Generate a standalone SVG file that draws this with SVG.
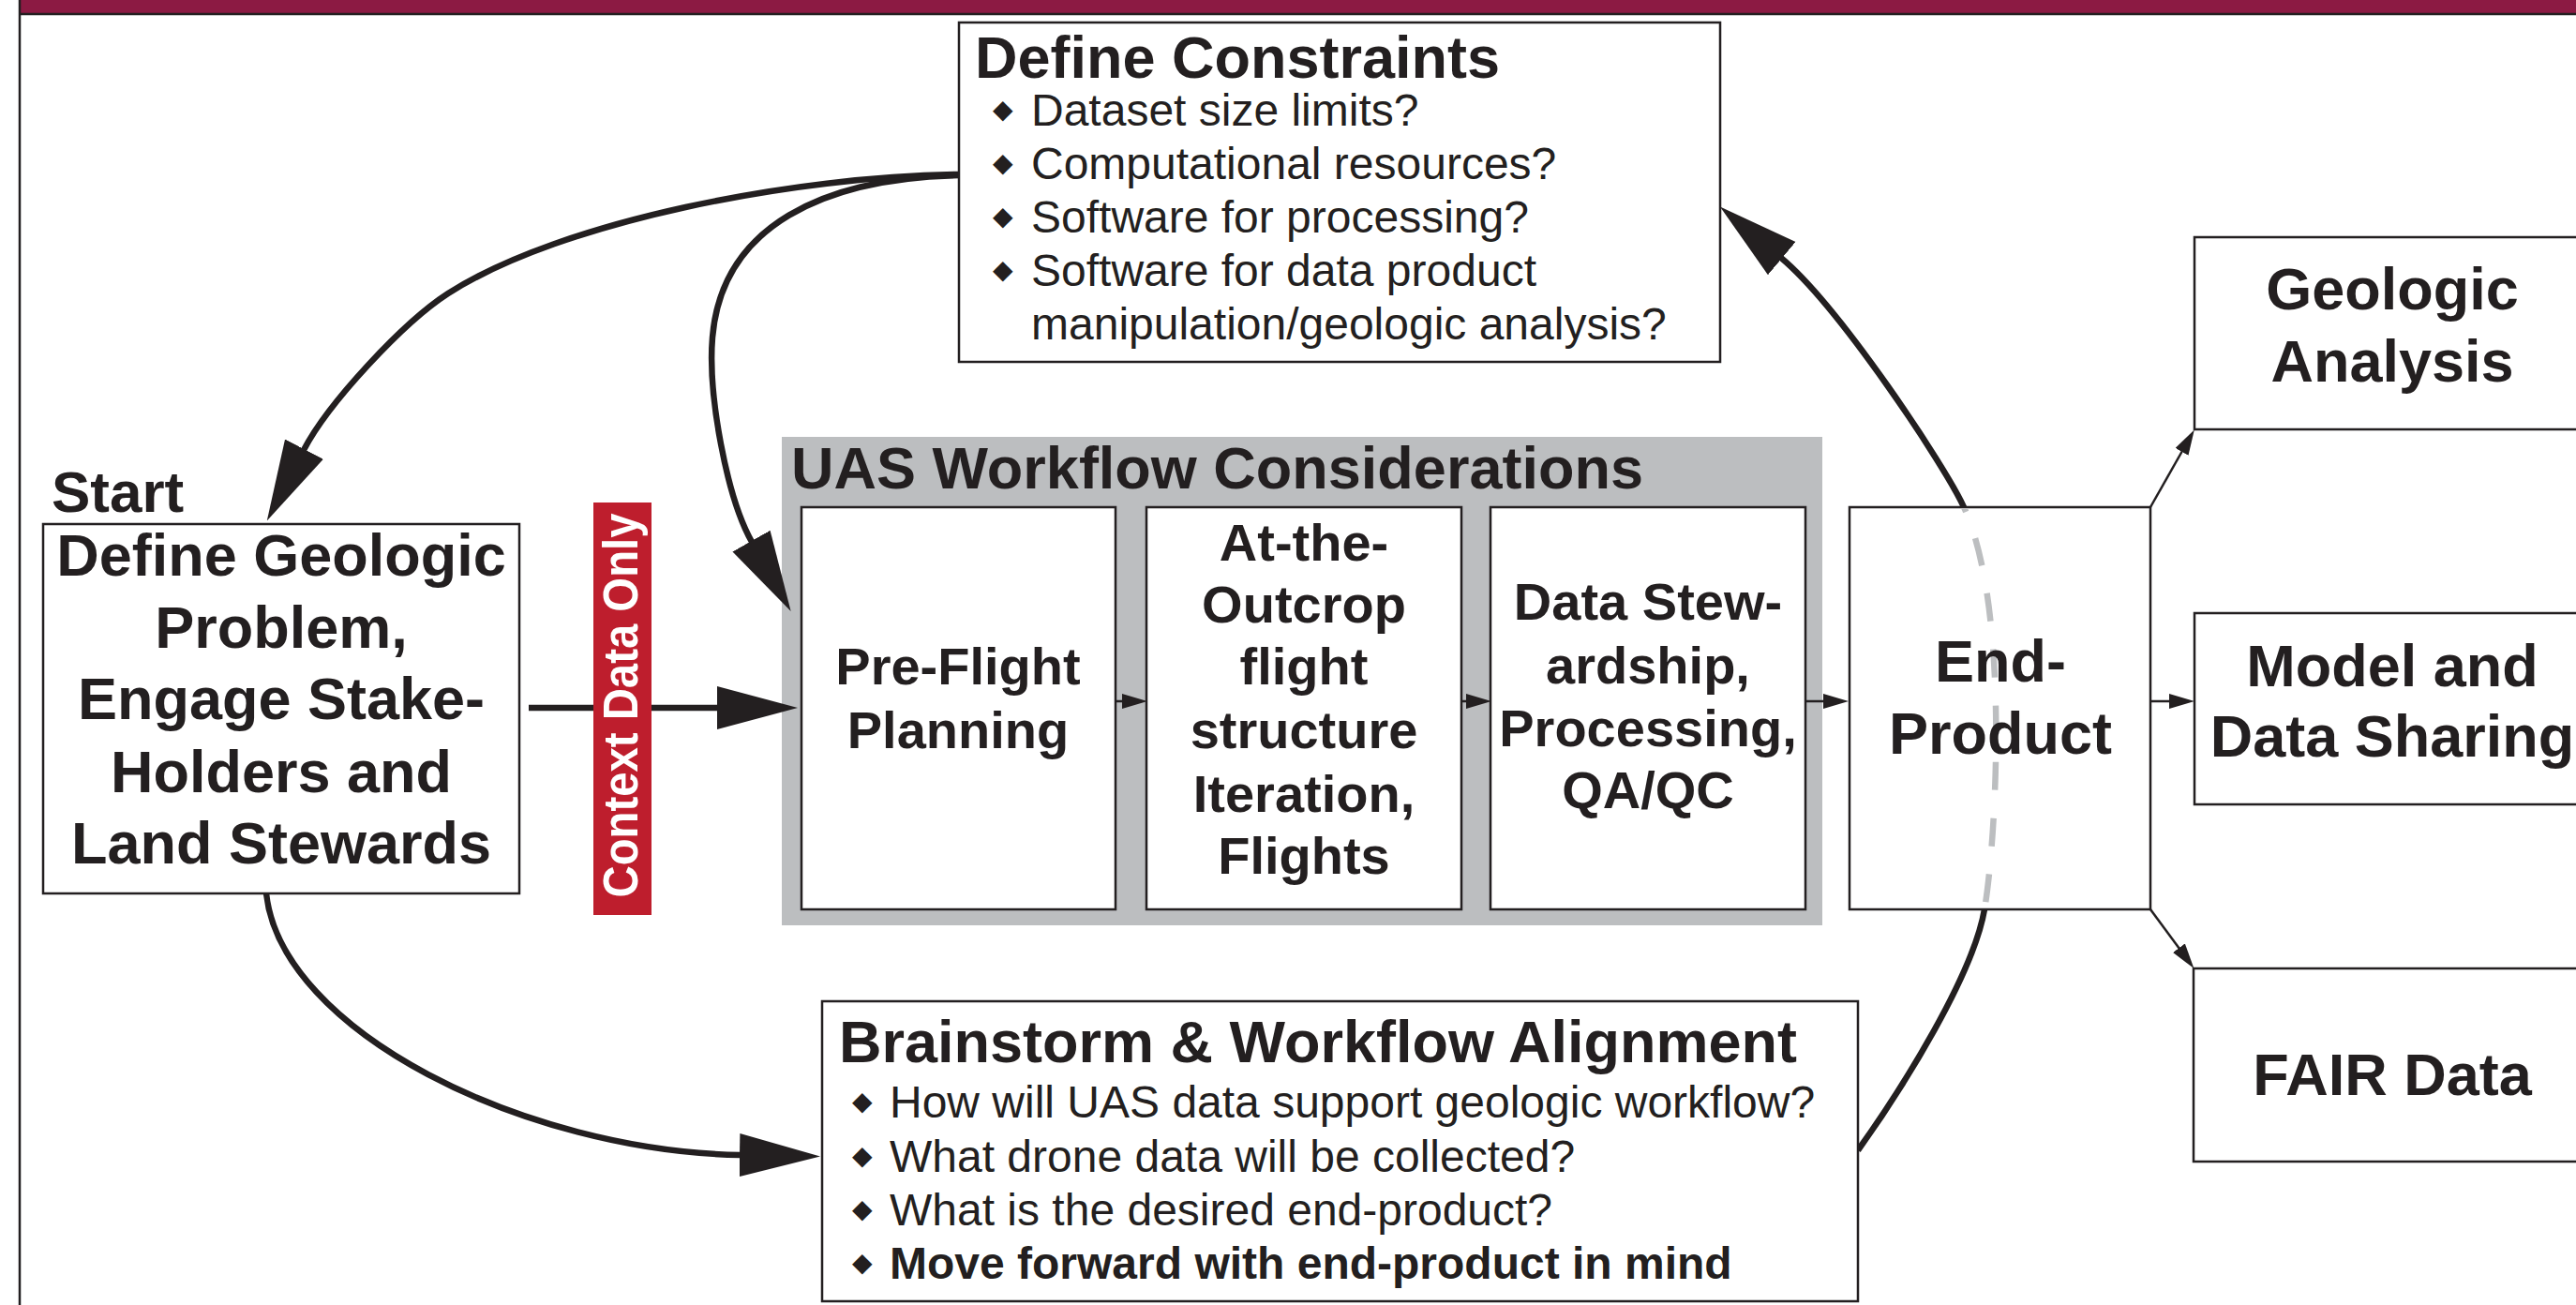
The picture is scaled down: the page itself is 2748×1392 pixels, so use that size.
<svg xmlns="http://www.w3.org/2000/svg" width="2748" height="1392" viewBox="0 0 2748 1392">
<style>
.bg{fill:#ffffff}
.box{fill:#ffffff;stroke:#231F20;stroke-width:2.5}
.lbl{font-family:"Liberation Sans",Arial,sans-serif;font-weight:bold;font-size:63px;fill:#231F20;text-anchor:middle}
.lbl56{font-size:56px}
.ttl{font-family:"Liberation Sans",Arial,sans-serif;font-weight:bold;font-size:63px;fill:#231F20}
.bul{font-family:"Liberation Sans",Arial,sans-serif;font-size:48px;fill:#231F20}
.bold{font-weight:bold}
.dia{font-family:"DejaVu Sans",sans-serif;font-size:28px;font-weight:normal}
.conn{fill:none;stroke:#231F20;stroke-width:6.5}
.thin{fill:none;stroke:#231F20;stroke-width:2.5}
.hidden{fill:none;stroke:#BCBEC0;stroke-width:6.5;stroke-dasharray:30 30}
</style>
<defs>
<marker id="big" markerUnits="userSpaceOnUse" markerWidth="86" markerHeight="48" viewBox="0 0 86 48" refX="1" refY="24" orient="auto">
<path d="M0,1 L86,24 L0,47 Z" fill="#231F20"/>
</marker>
<marker id="small" markerUnits="userSpaceOnUse" markerWidth="27" markerHeight="16" viewBox="0 0 27 16" refX="1" refY="8" orient="auto">
<path d="M0,0 L27,8 L0,16 Z" fill="#231F20"/>
</marker>
<clipPath id="endClip"><rect x="1975" y="543" width="317" height="425"/></clipPath>
</defs>
<rect class="bg" x="0" y="0" width="2748" height="1392"/>
<g id="frame">
<rect x="21" y="0" width="2727" height="14" fill="#8C1A43"/>
<line x1="21" y1="15" x2="2748" y2="15" stroke="#231F20" stroke-width="2.5"/>
<line x1="21" y1="0" x2="21" y2="1392" stroke="#231F20" stroke-width="2.5"/>
</g>
<g id="uas-workflow">
<rect x="834" y="466" width="1110" height="521" fill="#BCBEC0"/>
<text class="ttl" x="844" y="521">UAS Workflow Considerations</text>
</g>
<g id="connectors">
<path class="conn" d="M1023,186 C850,188 600,235 478,313 C430,344 350,430 324,480" marker-end="url(#big)"/>
<path class="conn" d="M1023,187 C880,190 770,240 760,360 C755,420 775,530 802,578" marker-end="url(#big)"/>
<path class="conn" d="M564,755 L766,755" marker-end="url(#big)"/>
<path class="conn" d="M284,953 C300,1100 560,1228 790,1232" marker-end="url(#big)"/>
<path class="conn" d="M1982,1227 C2030,1160 2105,1040 2117,970 C2129,900 2145,650 2095,541 C2075,497 1962,327 1900,275" marker-end="url(#big)"/>
<path class="thin" d="M1180,748 L1198,748" marker-end="url(#small)"/>
<path class="thin" d="M1546,748 L1565,748" marker-end="url(#small)"/>
<path class="thin" d="M1922,748 L1946,748" marker-end="url(#small)"/>
<path class="thin" d="M2294,748 L2315,748" marker-end="url(#small)"/>
<path class="thin" d="M2294,541 L2328,481" marker-end="url(#small)"/>
<path class="thin" d="M2294,970 L2325,1012" marker-end="url(#small)"/>
</g>
<g id="define-constraints">
<rect class="box" x="1023" y="24" width="812" height="362"/>
<text class="ttl" x="1040" y="83">Define Constraints</text>
<text class="bul"><tspan class="dia" x="1059" y="126">◆</tspan><tspan x="1100" y="134">Dataset size limits?</tspan></text>
<text class="bul"><tspan class="dia" x="1059" y="183">◆</tspan><tspan x="1100" y="191">Computational resources?</tspan></text>
<text class="bul"><tspan class="dia" x="1059" y="240">◆</tspan><tspan x="1100" y="248">Software for processing?</tspan></text>
<text class="bul"><tspan class="dia" x="1059" y="297">◆</tspan><tspan x="1100" y="305">Software for data product</tspan></text>
<text class="bul" x="1100" y="362">manipulation/geologic analysis?</text>
</g>
<g id="start">
<text class="ttl" x="55" y="546" style="font-size:62px">Start</text>
</g>
<g id="define-geologic-problem">
<rect class="box" x="46" y="559" width="508" height="394"/>
<text class="lbl" x="300" y="614">Define Geologic</text>
<text class="lbl" x="300" y="691">Problem,</text>
<text class="lbl" x="300" y="767">Engage Stake-</text>
<text class="lbl" x="300" y="845">Holders and</text>
<text class="lbl" x="300" y="921">Land Stewards</text>
</g>
<g id="context-data-only">
<rect x="633" y="536" width="62" height="440" fill="#BE1E2D"/>
<text transform="translate(680,752.5) rotate(-90)" x="0" y="0" textLength="410" lengthAdjust="spacingAndGlyphs" style="font-family:'Liberation Sans',Arial,sans-serif;font-weight:bold;font-size:51px;fill:#ffffff;text-anchor:middle">Context Data Only</text>
</g>
<g id="pre-flight-planning">
<rect class="box" x="855" y="541" width="335" height="429"/>
<text class="lbl lbl56" x="1022" y="730">Pre-Flight</text>
<text class="lbl lbl56" x="1022" y="798">Planning</text>
</g>
<g id="at-the-outcrop">
<rect class="box" x="1223" y="541" width="336" height="429"/>
<text class="lbl lbl56" x="1391" y="598">At-the-</text>
<text class="lbl lbl56" x="1391" y="664">Outcrop</text>
<text class="lbl lbl56" x="1391" y="730">flight</text>
<text class="lbl lbl56" x="1391" y="798">structure</text>
<text class="lbl lbl56" x="1391" y="866">Iteration,</text>
<text class="lbl lbl56" x="1391" y="932">Flights</text>
</g>
<g id="data-stewardship">
<rect class="box" x="1590" y="541" width="336" height="429"/>
<text class="lbl lbl56" x="1758" y="661">Data Stew-</text>
<text class="lbl lbl56" x="1758" y="729">ardship,</text>
<text class="lbl lbl56" x="1758" y="796">Processing,</text>
<text class="lbl lbl56" x="1758" y="862">QA/QC</text>
</g>
<g id="end-product">
<rect class="box" x="1973" y="541" width="321" height="429"/>
<path class="hidden" clip-path="url(#endClip)" d="M1982,1227 C2030,1160 2105,1040 2117,970 C2129,900 2145,650 2095,541 C2075,497 1962,327 1900,275"/>
<text class="lbl" x="2134" y="727">End-</text>
<text class="lbl" x="2134" y="804">Product</text>
</g>
<g id="geologic-analysis">
<rect class="box" x="2341" y="253" width="430" height="205"/>
<text class="lbl" x="2552" y="330">Geologic</text>
<text class="lbl" x="2552" y="407">Analysis</text>
</g>
<g id="model-data-sharing">
<rect class="box" x="2341" y="654" width="430" height="204"/>
<text class="lbl" x="2552" y="732">Model and</text>
<text class="lbl" x="2552" y="807">Data Sharing</text>
</g>
<g id="fair-data">
<rect class="box" x="2340" y="1033" width="430" height="206"/>
<text class="lbl" x="2552" y="1168">FAIR Data</text>
</g>
<g id="brainstorm">
<rect class="box" x="877" y="1068" width="1105" height="320"/>
<text class="ttl" x="895" y="1133">Brainstorm &amp; Workflow Alignment</text>
<text class="bul"><tspan class="dia" x="909" y="1184">◆</tspan><tspan x="949" y="1192">How will UAS data support geologic workflow?</tspan></text>
<text class="bul"><tspan class="dia" x="909" y="1242">◆</tspan><tspan x="949" y="1250">What drone data will be collected?</tspan></text>
<text class="bul"><tspan class="dia" x="909" y="1299">◆</tspan><tspan x="949" y="1307">What is the desired end-product?</tspan></text>
<text class="bul bold"><tspan class="dia" x="909" y="1356">◆</tspan><tspan x="949" y="1364">Move forward with end-product in mind</tspan></text>
</g>
</svg>
